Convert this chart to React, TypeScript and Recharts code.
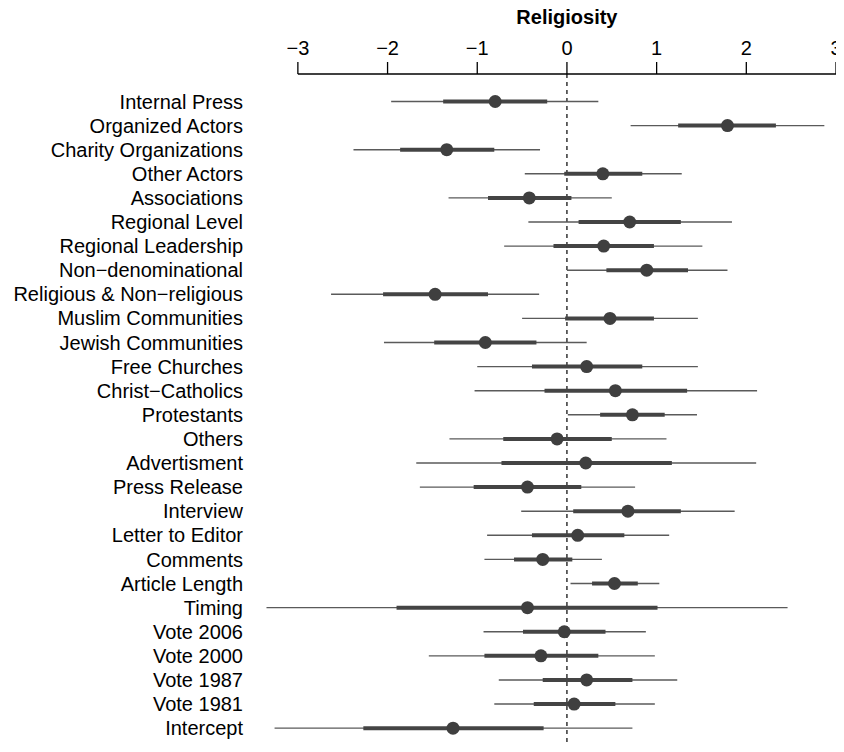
import React from 'react';
import {
  ComposedChart,
  Scatter,
  XAxis,
  YAxis,
  ErrorBar,
  ReferenceLine,
} from 'recharts';

const labels = [
  'Internal Press',
  'Organized Actors',
  'Charity Organizations',
  'Other Actors',
  'Associations',
  'Regional Level',
  'Regional Leadership',
  'Non\u2212denominational',
  'Religious & Non\u2212religious',
  'Muslim Communities',
  'Jewish Communities',
  'Free Churches',
  'Christ\u2212Catholics',
  'Protestants',
  'Others',
  'Advertisment',
  'Press Release',
  'Interview',
  'Letter to Editor',
  'Comments',
  'Article Length',
  'Timing',
  'Vote 2006',
  'Vote 2000',
  'Vote 1987',
  'Vote 1981',
  'Intercept',
];

const estimate = [-0.8, 1.79, -1.34, 0.4, -0.42, 0.7, 0.41, 0.89, -1.47, 0.48, -0.91, 0.22, 0.54, 0.73, -0.11, 0.21, -0.44, 0.68, 0.12, -0.27, 0.53, -0.44, -0.03, -0.29, 0.22, 0.08, -1.27];
const innerLow = [-1.38, 1.24, -1.86, -0.03, -0.88, 0.13, -0.15, 0.44, -2.05, -0.02, -1.48, -0.39, -0.25, 0.37, -0.71, -0.73, -1.04, 0.07, -0.39, -0.59, 0.28, -1.9, -0.49, -0.92, -0.27, -0.37, -2.27];
const innerHigh = [-0.22, 2.33, -0.81, 0.84, 0.05, 1.27, 0.97, 1.35, -0.88, 0.97, -0.34, 0.84, 1.34, 1.09, 0.5, 1.17, 0.16, 1.27, 0.64, 0.06, 0.79, 1.01, 0.43, 0.35, 0.73, 0.54, -0.26];
const outerLow = [-1.96, 0.71, -2.38, -0.47, -1.32, -0.43, -0.7, 0.0, -2.63, -0.5, -2.04, -1.0, -1.03, 0.01, -1.31, -1.68, -1.64, -0.51, -0.89, -0.92, 0.04, -3.35, -0.93, -1.54, -0.76, -0.81, -3.26];
const outerHigh = [0.35, 2.87, -0.3, 1.28, 0.5, 1.84, 1.51, 1.79, -0.31, 1.46, 0.22, 1.46, 2.12, 1.45, 1.11, 2.11, 0.76, 1.87, 1.14, 0.39, 1.03, 2.46, 0.88, 0.98, 1.23, 0.98, 0.73];

const xTicks = [-3, -2, -1, 0, 1, 2, 3];
const axisTitle = 'Religiosity';

const rows = labels.map((name, i) => ({
  name,
  y: i,
  x: estimate[i],
  innerErr: [estimate[i] - innerLow[i], innerHigh[i] - estimate[i]],
  outerErr: [estimate[i] - outerLow[i], outerHigh[i] - estimate[i]],
}));

const yIndexTicks = labels.map((_, i) => i);
const Y_TOP = -1.14;
const Y_BOTTOM = 26.99;
const FONT = '"Liberation Sans", Arial, Helvetica, sans-serif';

const Dot = (p: any) => <circle cx={p.cx} cy={p.cy} r={6.5} fill="#3f3f3f" />;

export default function App() {
  return (
    <div style={{ height: 736, overflow: 'visible' }}>
      <ComposedChart
        width={836}
        height={744}
        data={rows}
        margin={{ top: 0, right: 8, bottom: 0, left: 0 }}
        style={{ fontFamily: FONT }}
      >
        <XAxis
          type="number"
          dataKey="x"
          orientation="top"
          domain={[-3.4, 3]}
          ticks={xTicks}
          interval={0}
          height={66}
          axisLine={false}
          tickLine={{ stroke: '#000', strokeWidth: 1.3 }}
          tickSize={12}
          tickMargin={7}
          tick={{ fill: '#000', fontSize: 20, fontFamily: FONT }}
          tickFormatter={(v: number) => String(v).replace('-', '\u2212')}
        />
        <YAxis
          type="number"
          dataKey="y"
          reversed
          domain={[Y_TOP, Y_BOTTOM]}
          ticks={yIndexTicks}
          interval={0}
          width={254}
          axisLine={false}
          tickLine={false}
          tickSize={0}
          tickMargin={19}
          tick={{ fill: '#000', fontSize: 20, fontFamily: FONT }}
          tickFormatter={(v: number) => labels[v] ?? ''}
        />
        <ReferenceLine
          x={0}
          stroke="#000"
          strokeWidth={1.2}
          strokeDasharray="4 4"
        />
        <ReferenceLine
          segment={[
            { x: xTicks[0], y: Y_TOP },
            { x: xTicks[xTicks.length - 1], y: Y_TOP },
          ]}
          stroke="#000"
          strokeWidth={1.3}
          ifOverflow="visible"
          label={{
            value: axisTitle,
            position: 'top',
            offset: 50,
            fill: '#000',
            fontSize: 20,
            fontWeight: 'bold',
            fontFamily: FONT,
          }}
        />
        <Scatter
          data={rows}
          dataKey="x"
          shape={Dot}
          isAnimationActive={false}
        >
          <ErrorBar
            dataKey="outerErr"
            direction="x"
            width={0}
            stroke="#5a5a5a"
            strokeWidth={1.4}
            isAnimationActive={false}
          />
          <ErrorBar
            dataKey="innerErr"
            direction="x"
            width={0}
            stroke="#444444"
            strokeWidth={4}
            isAnimationActive={false}
          />
        </Scatter>
      </ComposedChart>
    </div>
  );
}
